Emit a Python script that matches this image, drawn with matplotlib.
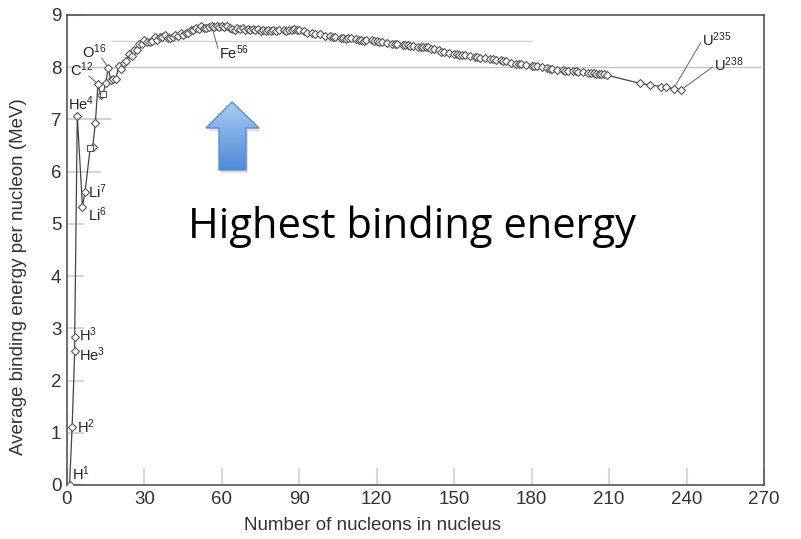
import numpy as np
import matplotlib.pyplot as plt
from matplotlib.patches import Polygon

plt.rcParams['mathtext.default'] = 'regular'

# 核子数 / 每核子平均结合能 (MeV)
mass_number = [1, 2, 3, 3, 4, 6, 7, 9, 10, 11, 12, 13, 14, 15, 16, 17, 18, 19, 20,
               21, 22, 23, 24, 25, 26, 27, 28, 29, 30, 31, 32, 33, 34, 35, 36, 37, 38,
               39, 40, 41, 42, 43, 44, 45, 46, 47, 48, 49, 50, 51, 52, 53, 54, 55, 56,
               57, 58, 59, 60, 61, 62, 63, 64, 65, 66, 67, 68, 69, 70, 71, 72, 73, 74,
               75, 76, 77, 78, 79, 80, 81, 82, 84, 85, 86, 87, 88, 89, 90, 92, 93, 95,
               96, 98, 100, 102, 103, 104, 106, 107, 108, 109, 110, 112, 113, 114, 115,
               116, 118, 119, 120, 121, 122, 124, 126, 127, 128, 130, 131, 132, 133,
               134, 136, 137, 138, 139, 140, 141, 142, 144, 145, 146, 148, 150, 151,
               152, 153, 154, 156, 158, 159, 160, 162, 164, 165, 166, 168, 169, 170,
               172, 174, 175, 176, 178, 180, 181, 182, 184, 186, 187, 188, 190, 192,
               193, 194, 196, 197, 198, 200, 202, 203, 204, 205, 206, 207, 208, 209,
               222, 226, 230, 232, 235, 238]
binding = [0.0, 1.11, 2.57, 2.83, 7.07, 5.33, 5.61, 6.46, 6.48, 6.93, 7.68, 7.47, 7.48,
           7.70, 7.98, 7.75, 7.77, 7.78, 8.03, 7.97, 8.08, 8.11, 8.26, 8.22, 8.33, 8.33,
           8.45, 8.45, 8.52, 8.48, 8.49, 8.50, 8.58, 8.52, 8.58, 8.57, 8.61, 8.56, 8.55,
           8.58, 8.62, 8.60, 8.66, 8.62, 8.66, 8.66, 8.72, 8.71, 8.76, 8.74, 8.78, 8.76,
           8.76, 8.77, 8.79, 8.77, 8.79, 8.77, 8.78, 8.77, 8.79, 8.75, 8.74, 8.72, 8.76,
           8.73, 8.76, 8.72, 8.73, 8.72, 8.73, 8.71, 8.73, 8.70, 8.71, 8.70, 8.72, 8.69,
           8.71, 8.70, 8.71, 8.72, 8.70, 8.71, 8.71, 8.73, 8.71, 8.71, 8.69, 8.66, 8.65,
           8.64, 8.63, 8.60, 8.59, 8.58, 8.58, 8.56, 8.55, 8.54, 8.55, 8.55, 8.54, 8.53,
           8.53, 8.51, 8.52, 8.52, 8.50, 8.50, 8.48, 8.49, 8.47, 8.44, 8.45, 8.44, 8.43,
           8.42, 8.43, 8.41, 8.41, 8.39, 8.39, 8.39, 8.38, 8.38, 8.35, 8.35, 8.33, 8.30,
           8.30, 8.28, 8.26, 8.25, 8.24, 8.23, 8.23, 8.22, 8.20, 8.19, 8.18, 8.17, 8.15,
           8.15, 8.14, 8.13, 8.11, 8.11, 8.09, 8.07, 8.07, 8.06, 8.04, 8.03, 8.02, 8.02,
           8.01, 7.98, 7.97, 7.97, 7.95, 7.94, 7.93, 7.93, 7.92, 7.92, 7.91, 7.90, 7.89,
           7.88, 7.88, 7.87, 7.87, 7.87, 7.87, 7.85, 7.69, 7.66, 7.63, 7.62, 7.59, 7.57]
square_points = [9, 14]

x_ticks = [0, 30, 60, 90, 120, 150, 180, 210, 240, 270]
y_ticks = [0, 1, 2, 3, 4, 5, 6, 7, 8, 9]

# 标注: (文字, 文字位置 x, y, 引线终点 或 None)
labels = [
    ('H$^{1}$', 2.0, 0.22, None),
    ('H$^{2}$', 4.0, 1.11, None),
    ('H$^{3}$', 4.5, 2.88, None),
    ('He$^{3}$', 4.5, 2.50, None),
    ('He$^{4}$', 0.5, 7.30, None),
    ('Li$^{7}$', 8.0, 5.61, None),
    ('Li$^{6}$', 8.0, 5.18, None),
    ('C$^{12}$', 1.0, 7.95, (12, 7.68)),
    ('O$^{16}$', 6.0, 8.30, (16, 7.98)),
    ('Fe$^{56}$', 59.0, 8.28, (56, 8.79)),
    ('U$^{235}$', 246.0, 8.52, (235, 7.59)),
    ('U$^{238}$', 250.5, 8.05, (238, 7.57)),
]

fig = plt.figure(figsize=(8.01, 5.39), dpi=100)
ax = fig.add_axes([0.0836, 0.1002, 0.8702, 0.8720])

# 浅灰参考线
ax.hlines(8.0, 0, 269, color='#c4c4c4', lw=1.0, zorder=1)
ax.hlines(8.5, 17, 180, color='#d4d4d4', lw=1.0, zorder=1)
ax.hlines(7.0, 0, 17, color='#d4d4d4', lw=1.5, zorder=1)
ax.hlines(6.0, 0, 13, color='#d4d4d4', lw=1.5, zorder=1)

ax.plot(mass_number, binding, '-', color='#444444', lw=0.9, zorder=2)
is_sq = np.isin(mass_number, square_points)
a = np.array(mass_number)
b = np.array(binding)
ax.plot(a[~is_sq], b[~is_sq], 'D', ms=4.2, mfc='white', mec='#555555', mew=0.8,
        ls='none', zorder=3)
ax.plot(a[is_sq], b[is_sq], 's', ms=4.2, mfc='white', mec='#555555', mew=0.8,
        ls='none', zorder=3)

for txt, tx, ty, target in labels:
    ax.text(tx, ty, txt, fontsize=10.5, family='Liberation Sans', color='#222222',
            va='center', ha='left', zorder=4)
    if target is not None:
        if target[0] < 20:
            sx, sy = tx + 7.5, ty - 0.12
        elif target[0] < 100:
            sx, sy = tx - 0.5, ty + 0.08
        else:
            sx, sy = tx - 0.5, ty - 0.05
        ax.plot([target[0], sx], [target[1], sy], color='#666666', lw=0.7, zorder=2)

ax.set_xlim(0, 270)
ax.set_ylim(0, 9)
ax.set_xticks(x_ticks)
ax.set_yticks(y_ticks)
ax.tick_params(direction='in', length=12, width=1.5, color='#d8d8d8', pad=4,
               labelsize=13.5, labelcolor='#333333')
for lab in ax.get_xticklabels() + ax.get_yticklabels():
    lab.set_family('Liberation Sans')
for s in ax.spines.values():
    s.set_color('#555555')
    s.set_linewidth(1.2)
ax.set_xlabel('Number of nucleons in nucleus', fontsize=13.5, family='Liberation Sans',
              color='#333333')
ax.xaxis.set_label_coords(0.439, -0.068)
ax.set_ylabel('Average binding energy per nucleon (MeV)', fontsize=13.5,
              family='Liberation Sans', color='#333333')
ax.yaxis.set_label_coords(-0.057, 0.443)

# 蓝色渐变箭头 (像素坐标覆盖层)
ov = fig.add_axes([0, 0, 1, 1], facecolor='none')
ov.set_xlim(0, 801)
ov.set_ylim(539, 0)
ov.axis('off')
arrow_pts = [(232, 102), (259, 128), (246, 128), (246, 170), (219, 170), (219, 128), (206, 128)]
shadow = Polygon([(x + 2, y + 3) for x, y in arrow_pts], closed=True, fc='#000000',
                 alpha=0.12, ec='none')
ov.add_patch(shadow)
poly = Polygon(arrow_pts, closed=True, fc='none', ec='#5a8ad0', lw=1.0, zorder=3)
ov.add_patch(poly)
grad = np.linspace(0, 1, 100).reshape(-1, 1)
cmap = plt.matplotlib.colors.LinearSegmentedColormap.from_list('bl', ['#aacbf2', '#4f8ad8'])
im = ov.imshow(grad, cmap=cmap, extent=(206, 259, 170, 102), aspect='auto', zorder=2)
im.set_clip_path(poly)

ov.text(412, 238, 'Highest binding energy', fontsize=30, family='Open Sans',
        color='black', ha='center', va='baseline')

fig.savefig('out.png', dpi=100)
